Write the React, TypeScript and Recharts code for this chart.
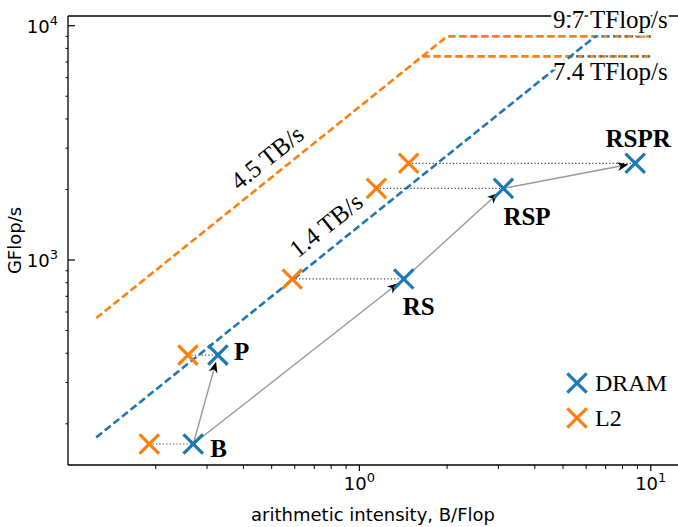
import React from 'react'
import { ComposedChart, XAxis, YAxis, Line, Scatter, ReferenceLine, ReferenceDot, Legend, Label } from 'recharts'

// kernels, measured on DRAM and L2
const kernels = ['B', 'P', 'RS', 'RSP', 'RSPR']
const dramIntensity = [0.269, 0.327, 1.42, 3.12, 8.84]
const l2Intensity = [0.19, 0.258, 0.588, 1.144, 1.476]
const gflops = [164, 393, 830, 2023, 2587]

// arrows between kernels (from index, to index)
const arrows = [[0, 1], [0, 2], [2, 3], [3, 4]]

// roofline segments
const l2Roof = [{ x: 0.125, y: 565 }, { x: 2.0, y: 9000 }, { x: 10, y: 9000 }]
const l2RoofLow = [{ x: 1.644, y: 7400 }, { x: 10, y: 7400 }]
const dramSlope = [{ x: 0.125, y: 175 }, { x: 6.45, y: 9000 }]
const dramRoofHigh = [{ x: 6.45, y: 9000 }, { x: 10, y: 9000 }]
const dramRoofLow = [{ x: 5.29, y: 7400 }, { x: 10, y: 7400 }]

const xTicks = [0.2, 0.3, 0.4, 0.5, 0.6, 0.7, 0.8, 0.9, 1, 2, 3, 4, 5, 6, 7, 8, 9, 10]
const yTicks = [200, 300, 400, 500, 600, 700, 800, 900, 1000, 2000, 3000, 4000, 5000, 6000, 7000, 8000, 9000, 10000]

const BLUE = '#1f77b4'
const ORANGE = '#ff7f0e'
const SERIF = '"Liberation Serif", serif'
const SANS = '"DejaVu Sans", sans-serif'

const dramPts = kernels.map((name, i) => ({ x: dramIntensity[i], y: gflops[i], name }))
const l2Pts = kernels.map((name, i) => ({ x: l2Intensity[i], y: gflops[i], name }))

// label placement relative to DRAM marker
const labelPos: Record<string, { dx: number; dy: number; anchor: string }> = {
  B: { dx: 17, dy: 13, anchor: 'start' },
  P: { dx: 16, dy: 5, anchor: 'start' },
  RS: { dx: -1, dy: 36, anchor: 'start' },
  RSP: { dx: 0, dy: 37, anchor: 'start' },
  RSPR: { dx: 3, dy: -16, anchor: 'middle' },
}

const isMajor = (v: number) => Math.abs(Math.log10(v) - Math.round(Math.log10(v))) < 1e-9

function XTick({ x, y, payload }: any) {
  const v = payload.value
  if (!isMajor(v)) return <line x1={x} y1={y} x2={x} y2={y + 4} stroke="#000" strokeWidth={1} />
  return (
    <g>
      <line x1={x} y1={y} x2={x} y2={y + 6} stroke="#000" strokeWidth={1.2} />
      <text x={x} y={y + 25} textAnchor="middle" fontFamily={SANS} fontSize={18} fill="#000">
        10<tspan dy={-8} fontSize={13}>{Math.round(Math.log10(v))}</tspan>
      </text>
    </g>
  )
}

function YTick({ x, y, payload }: any) {
  const v = payload.value
  if (!isMajor(v)) return <line x1={x} y1={y} x2={x - 2.5} y2={y} stroke="#000" strokeWidth={1} />
  return (
    <g>
      <line x1={x} y1={y} x2={x + 7} y2={y} stroke="#000" strokeWidth={1.2} />
      <text x={x - 10} y={y + 7} textAnchor="end" fontFamily={SANS} fontSize={18} fill="#000">
        10<tspan dy={-8} fontSize={13}>{Math.round(Math.log10(v))}</tspan>
      </text>
    </g>
  )
}

const cross = (color: string, withLabel: boolean) => (props: any) => {
  const { cx, cy, payload } = props
  const s = 9.7
  const lp = labelPos[payload.name]
  return (
    <g>
      <line x1={cx - s} y1={cy - s} x2={cx + s} y2={cy + s} stroke={color} strokeWidth={3.2} />
      <line x1={cx - s} y1={cy + s} x2={cx + s} y2={cy - s} stroke={color} strokeWidth={3.2} />
      {withLabel && (
        <text x={cx + lp.dx} y={cy + lp.dy} textAnchor={lp.anchor} fontFamily={SERIF} fontWeight="bold" fontSize={25} fill="#000">
          {payload.name}
        </text>
      )}
    </g>
  )
}

function Arrow(props: any) {
  const { x1, y1, x2, y2 } = props
  const dx = x2 - x1
  const dy = y2 - y1
  const len = Math.sqrt(dx * dx + dy * dy)
  const ux = dx / len
  const uy = dy / len
  const tx = x2 - ux * 7
  const ty = y2 - uy * 7
  const hl = 11
  const hw = 4.5
  const bx = tx - ux * hl
  const by = ty - uy * hl
  const nx = tx - ux * hl * 0.7
  const ny = ty - uy * hl * 0.7
  return (
    <g>
      <line x1={x1} y1={y1} x2={nx} y2={ny} stroke="#999" strokeWidth={1.4} />
      <path
        d={`M${tx},${ty} L${bx - uy * hw},${by + ux * hw} L${nx},${ny} L${bx + uy * hw},${by - ux * hw} Z`}
        fill="#000"
      />
    </g>
  )
}

const slopeText = (text: string, off: number) => (props: any) => (
  <text
    transform={`translate(${props.cx},${props.cy}) rotate(-38.8)`}
    x={0}
    y={off}
    textAnchor="middle"
    fontFamily={SERIF}
    fontSize={25}
    fill="#000"
  >
    {text}
  </text>
)

const peakText = (text: string, dx: number, dy: number) => (props: any) => (
  <text
    x={props.cx + dx}
    y={props.cy + dy}
    textAnchor="end"
    fontFamily={SERIF}
    fontSize={25}
    fill="#000"
    stroke="#fff"
    strokeWidth={5}
    paintOrder="stroke"
  >
    {text}
  </text>
)

function LegendBox() {
  const items = [
    { name: 'DRAM', color: BLUE },
    { name: 'L2', color: ORANGE },
  ]
  return (
    <svg width={110} height={70}>
      {items.map((it, i) => {
        const cy = 13 + i * 35
        return (
          <g key={it.name}>
            <line x1={2.3} y1={cy - 9.7} x2={21.7} y2={cy + 9.7} stroke={it.color} strokeWidth={3.2} />
            <line x1={2.3} y1={cy + 9.7} x2={21.7} y2={cy - 9.7} stroke={it.color} strokeWidth={3.2} />
            <text x={30} y={cy + 8} fontFamily={SERIF} fontSize={24} fill="#000">{it.name}</text>
          </g>
        )
      })}
    </svg>
  )
}

export default function App() {
  return (
    <div style={{ width: 678, height: 527, background: '#fff' }}>
      <style>{'body{margin:0}'}</style>
      <ComposedChart width={678} height={527} margin={{ top: 16, right: 0, bottom: 0, left: 0 }}>
        <XAxis
          type="number"
          dataKey="x"
          scale="log"
          domain={[0.1, 12.4]}
          allowDataOverflow
          ticks={xTicks}
          interval={0}
          tickSize={0}
          tickMargin={0}
          tick={<XTick />}
          height={62}
          axisLine={{ stroke: '#000', strokeWidth: 1.3 }}
        >
          <Label
            content={({ viewBox }: any) => (
              <text x={viewBox.x + viewBox.width / 2} y={viewBox.y + 56} textAnchor="middle" fontFamily={SANS} fontSize={18} fill="#000">
                arithmetic intensity, B/Flop
              </text>
            )}
          />
        </XAxis>
        <YAxis
          type="number"
          dataKey="y"
          scale="log"
          domain={[133.4, 11000]}
          allowDataOverflow
          ticks={yTicks}
          interval={0}
          tickSize={0}
          tickMargin={0}
          tick={<YTick />}
          width={68}
          axisLine={{ stroke: '#000', strokeWidth: 1.3 }}
        >
          <Label
            content={({ viewBox }: any) => (
              <text transform={`translate(21,${viewBox.y + viewBox.height / 2}) rotate(-90)`} textAnchor="middle" fontFamily={SANS} fontSize={18} fill="#000">
                GFlop/s
              </text>
            )}
          />
        </YAxis>

        <ReferenceLine y={11000} stroke="#000" strokeWidth={1.5} ifOverflow="visible" />

        <Line data={l2Roof} dataKey="y" stroke={ORANGE} strokeWidth={2.6} strokeDasharray="7.5 3.5" dot={false} legendType="none" isAnimationActive={false} />
        <Line data={l2RoofLow} dataKey="y" stroke={ORANGE} strokeWidth={2.6} strokeDasharray="7.5 3.5" dot={false} legendType="none" isAnimationActive={false} />
        <Line data={dramSlope} dataKey="y" stroke={BLUE} strokeWidth={2.6} strokeDasharray="7.5 3.5" dot={false} legendType="none" isAnimationActive={false} />
        <Line data={dramRoofHigh} dataKey="y" stroke={BLUE} strokeWidth={2.4} strokeDasharray="2 4" dot={false} legendType="none" isAnimationActive={false} />
        <Line data={dramRoofLow} dataKey="y" stroke={BLUE} strokeWidth={2.4} strokeDasharray="2 4" dot={false} legendType="none" isAnimationActive={false} />

        {kernels.map((k, i) => (
          <ReferenceLine
            key={'dot' + k}
            segment={[{ x: l2Intensity[i], y: gflops[i] }, { x: dramIntensity[i], y: gflops[i] }]}
            stroke="#444"
            strokeWidth={1.2}
            strokeDasharray="1.2 2.2"
            ifOverflow="visible"
          />
        ))}
        {arrows.map(([a, b]) => (
          <ReferenceLine
            key={'arr' + a + b}
            segment={[{ x: dramIntensity[a], y: gflops[a] }, { x: dramIntensity[b], y: gflops[b] }]}
            shape={<Arrow />}
            ifOverflow="visible"
          />
        ))}

        <ReferenceDot x={0.528} y={2376} r={0} ifOverflow="visible" shape={slopeText('4.5 TB/s', -10)} />
        <ReferenceDot x={0.853} y={1194} r={0} ifOverflow="visible" shape={slopeText('1.4 TB/s', -13)} />
        <ReferenceDot x={10} y={9000} r={0} ifOverflow="visible" shape={peakText('9.7 TFlop/s', 17, -8)} />
        <ReferenceDot x={10} y={7400} r={0} ifOverflow="visible" shape={peakText('7.4 TFlop/s', 17, 24)} />

        <Scatter name="L2" data={l2Pts} fill={ORANGE} shape={cross(ORANGE, false)} isAnimationActive={false} />
        <Scatter name="DRAM" data={dramPts} fill={BLUE} shape={cross(BLUE, true)} isAnimationActive={false} />

        <Legend
          layout="vertical"
          align="center"
          verticalAlign="middle"
          content={<LegendBox />}
          wrapperStyle={{ left: 565, top: 370, width: 110, height: 70 }}
        />
      </ComposedChart>
    </div>
  )
}
